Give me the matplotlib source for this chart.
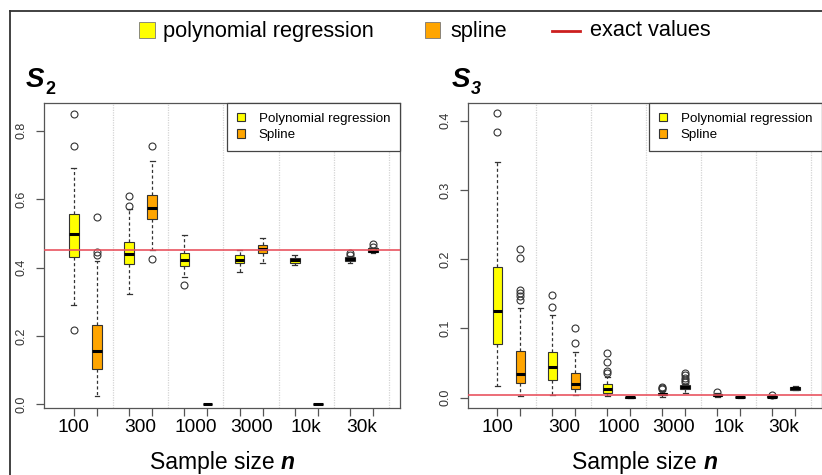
import matplotlib
matplotlib.use('Agg')
import matplotlib.pyplot as plt
from matplotlib.patches import Patch, Rectangle
from matplotlib.lines import Line2D

plt.rcParams['font.family'] = ['Liberation Sans', 'DejaVu Sans']

# ---------------- data ----------------
sizes = ['100', '300', '1000', '3000', '10k', '30k']
methods = ['Polynomial regression', 'Spline']

# S2 - polynomial regression
s2_poly_q1 = [0.432, 0.411, 0.405, 0.413, 0.414, 0.420]
s2_poly_med = [0.499, 0.439, 0.422, 0.423, 0.422, 0.425]
s2_poly_q3 = [0.557, 0.476, 0.443, 0.437, 0.429, 0.432]
s2_poly_lo = [0.291, 0.324, 0.373, 0.386, 0.408, 0.414]
s2_poly_hi = [0.690, 0.570, 0.495, 0.450, 0.437, 0.434]
s2_poly_out = [[0.848, 0.756, 0.217], [0.609, 0.581], [0.348], [], [], [0.441, 0.437]]
# S2 - spline
s2_spl_q1 = [0.104, 0.541, 0.0, 0.441, 0.0, 0.444]
s2_spl_med = [0.155, 0.575, 0.0, 0.453, 0.0, 0.449]
s2_spl_q3 = [0.233, 0.612, 0.001, 0.466, 0.001, 0.456]
s2_spl_lo = [0.024, 0.452, 0.0, 0.412, 0.0, 0.441]
s2_spl_hi = [0.418, 0.711, 0.001, 0.485, 0.001, 0.458]
s2_spl_out = [[0.547, 0.444, 0.437], [0.755, 0.425], [], [], [], [0.468, 0.461]]
s2_exact = 0.451

# S3 - polynomial regression
s3_poly_q1 = [0.078, 0.025, 0.007, 0.003, 0.002, 0.0003]
s3_poly_med = [0.125, 0.044, 0.013, 0.005, 0.003, 0.001]
s3_poly_q3 = [0.189, 0.066, 0.020, 0.007, 0.005, 0.002]
s3_poly_lo = [0.016, 0.003, 0.002, 0.001, 0.001, 0.0]
s3_poly_hi = [0.341, 0.119, 0.030, 0.010, 0.006, 0.003]
s3_poly_out = [[0.411, 0.384], [0.148, 0.131], [0.064, 0.051, 0.038, 0.035],
               [0.012, 0.014, 0.015], [0.008], [0.004]]
# S3 - spline
s3_spl_q1 = [0.021, 0.012, 0.0, 0.013, 0.0005, 0.0115]
s3_spl_med = [0.034, 0.020, 0.0005, 0.015, 0.001, 0.0134]
s3_spl_q3 = [0.067, 0.036, 0.001, 0.018, 0.0015, 0.015]
s3_spl_lo = [0.002, 0.003, 0.0, 0.006, 0.0, 0.011]
s3_spl_hi = [0.130, 0.066, 0.001, 0.020, 0.002, 0.016]
s3_spl_out = [[0.215, 0.201, 0.155, 0.151, 0.147, 0.141], [0.100, 0.079], [],
              [0.022, 0.025, 0.028, 0.032, 0.035], [], []]
s3_exact = 0.0043

# ---------------- style ----------------
W, H = 822, 475
YELLOW = '#FFFF00'
ORANGE = '#FFA500'
EDGE = '#333333'
RED_LINE = '#E8505C'
RED_LEG = '#CC1F1F'
SPINE = '#555555'

GROUP_STEP = 2.4
PAIR_STEP = 1.0
BOX_W = 0.42

fig = plt.figure(figsize=(W / 100, H / 100), dpi=100)


def fx(x):
    return x / W


def fy(y):
    return 1 - y / H


def make_stats(q1, med, q3, lo, hi, out):
    return [dict(q1=a, med=b, q3=c, whislo=d, whishi=e, fliers=f)
            for a, b, c, d, e, f in zip(q1, med, q3, lo, hi, out)]


def draw_panel(ax, poly, spl, exact, ylim, yticks):
    poly_pos = [i * GROUP_STEP for i in range(len(sizes))]
    spl_pos = [p + PAIR_STEP for p in poly_pos]
    # grid lines
    for p in poly_pos:
        ax.axvline(p + 1.7, color='#d4d4d4', lw=0.9, ls=(0, (1, 1)), zorder=0)
    for stats, pos, col in ((poly, poly_pos, YELLOW), (spl, spl_pos, ORANGE)):
        ax.bxp(stats, positions=pos, widths=BOX_W, capwidths=BOX_W * 0.5,
               patch_artist=True, manage_ticks=False,
               boxprops=dict(facecolor=col, edgecolor=EDGE, lw=0.8),
               medianprops=dict(color='black', lw=2.2, solid_capstyle='butt'),
               whiskerprops=dict(color=EDGE, lw=0.9, ls=(0, (2.5, 2))),
               capprops=dict(color=EDGE, lw=0.9),
               flierprops=dict(marker='o', markerfacecolor='none',
                               markeredgecolor=EDGE, markersize=5, mew=0.8))
    ax.axhline(exact, color=RED_LINE, lw=1.3, alpha=0.9, zorder=5)
    ax.set_xlim(-1.3, 14.17)
    ax.set_ylim(*ylim)
    all_pos = sorted(poly_pos + spl_pos)
    ax.set_xticks(all_pos)
    ax.set_xticklabels([''] * len(all_pos))
    lab_pos = [poly_pos[0]] + [p + PAIR_STEP / 2 for p in poly_pos[1:]]
    ax.xaxis.remove_overlapping_locs = False
    ax.set_xticks(lab_pos, sizes, minor=True)
    ax.tick_params(axis='x', which='major', length=6, color=SPINE, width=0.9)
    ax.tick_params(axis='x', which='minor', length=0, pad=8, labelsize=13.8)
    ax.set_yticks(yticks)
    ax.set_yticklabels(['%.1f' % v for v in yticks])
    ax.tick_params(axis='y', length=6, color=SPINE, width=0.9, pad=6,
                   labelsize=9, labelrotation=90, labelcolor='#333333')
    for lab in ax.get_yticklabels():
        lab.set_va('center')
    for s in ax.spines.values():
        s.set_color(SPINE)
        s.set_linewidth(0.9)
    leg_h = [Patch(facecolor=YELLOW, edgecolor=EDGE, lw=0.8),
             Patch(facecolor=ORANGE, edgecolor=EDGE, lw=0.8)]
    leg = ax.legend(leg_h, methods, loc='upper right', borderaxespad=0,
                    fancybox=False, fontsize=9.6, handlelength=0.6,
                    handleheight=0.6, handletextpad=1.0, borderpad=0.75,
                    labelspacing=0.35, framealpha=1)
    leg.get_frame().set_edgecolor('#444444')
    leg.get_frame().set_linewidth(0.9)
    leg.set_zorder(10)


ax1 = fig.add_axes([fx(44), fy(408.3), (400 - 44) / W, (408.3 - 102.7) / H])
ax2 = fig.add_axes([fx(467.7), fy(408.3), (822 - 467.7) / W, (408.3 - 102.7) / H])

draw_panel(ax1,
           make_stats(s2_poly_q1, s2_poly_med, s2_poly_q3, s2_poly_lo, s2_poly_hi, s2_poly_out),
           make_stats(s2_spl_q1, s2_spl_med, s2_spl_q3, s2_spl_lo, s2_spl_hi, s2_spl_out),
           s2_exact, (-0.0117, 0.882), [0.0, 0.2, 0.4, 0.6, 0.8])
draw_panel(ax2,
           make_stats(s3_poly_q1, s3_poly_med, s3_poly_q3, s3_poly_lo, s3_poly_hi, s3_poly_out),
           make_stats(s3_spl_q1, s3_spl_med, s3_spl_q3, s3_spl_lo, s3_spl_hi, s3_spl_out),
           s3_exact, (-0.0155, 0.426), [0.0, 0.1, 0.2, 0.3, 0.4])

renderer = fig.canvas.get_renderer()


def px_right(t):
    bb = t.get_window_extent(renderer=renderer)
    return bb.x1


# x labels "Sample size n"
for ax in (ax1, ax2):
    bb = ax.get_position()
    cx = (bb.x0 + bb.x1) / 2 * W
    t1 = fig.text(0, fy(469), 'Sample size ', fontsize=16.5, va='baseline', ha='left',
                  transform=fig.transFigure)
    t2 = fig.text(0, fy(469), 'n', fontsize=16.5, va='baseline', ha='left',
                  fontweight='bold', fontstyle='italic', transform=fig.transFigure)
    w1 = t1.get_window_extent(renderer=renderer).width
    w2 = t2.get_window_extent(renderer=renderer).width
    x0 = cx - (w1 + w2) / 2
    t1.set_x(fx(x0))
    t2.set_x(fx(x0 + w1))

# panel titles
for x0, sub, sub_style in ((26, '2', 'normal'), (452, '3', 'italic')):
    ts = fig.text(fx(x0), fy(87), 'S', fontsize=20, fontweight='bold',
                  fontstyle='italic', va='baseline', ha='left')
    xr = px_right(ts)
    fig.text(fx(xr + 0.5), fy(94), sub, fontsize=13, fontweight='bold',
             fontstyle=sub_style, va='baseline', ha='left')

# top legend (drawn manually)
fig.patches.append(Rectangle((fx(139), fy(38)), 16 / W, 16 / H, facecolor=YELLOW,
                             edgecolor='#777777', lw=0.6, transform=fig.transFigure))
fig.text(fx(163), fy(31), 'polynomial regression', fontsize=15.7, va='center', ha='left')
fig.patches.append(Rectangle((fx(425), fy(38)), 15 / W, 16 / H, facecolor=ORANGE,
                             edgecolor='#777777', lw=0.6, transform=fig.transFigure))
fig.text(fx(450), fy(31), 'spline', fontsize=15.7, va='center', ha='left')
fig.lines.append(Line2D([fx(552), fx(580)], [fy(31), fy(31)], color=RED_LEG, lw=2,
                        transform=fig.transFigure))
fig.text(fx(590), fy(31), 'exact values', fontsize=15.7, va='center', ha='left')

# outer frame
fig.lines.append(Line2D([fx(10), fx(10)], [fy(11), 0], color='#333333', lw=1.3,
                        transform=fig.transFigure))
fig.lines.append(Line2D([fx(10), 1], [fy(11), fy(11)], color='#333333', lw=1.3,
                        transform=fig.transFigure))

fig.savefig('out.png', dpi=100)
